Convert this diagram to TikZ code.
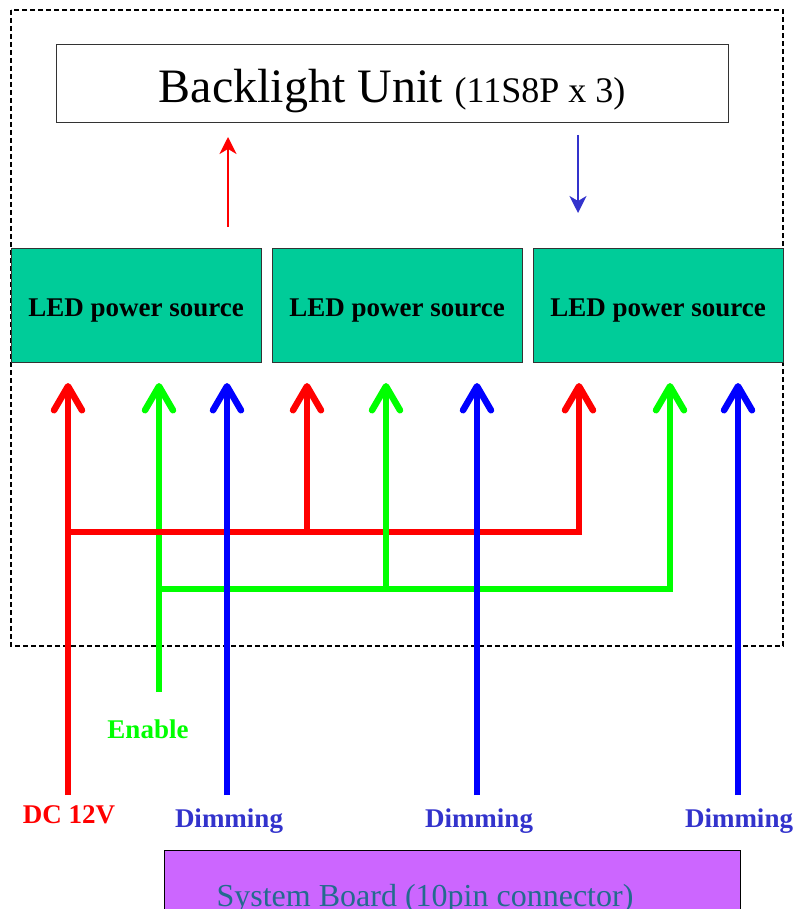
\documentclass[tikz,border=0pt]{standalone}
\usepackage{fontspec}
\setmainfont{Liberation Serif}
\usetikzlibrary{arrows.meta}

\definecolor{ledgreen}{HTML}{00CC99}
\definecolor{boardpurple}{HTML}{CC66FF}
\definecolor{dimblue}{HTML}{3333CC}
\definecolor{boardtext}{HTML}{236B8E}

\tikzset{
  wire/.style={line width=6.5pt,-{Straight Barb[length=24pt,width=28pt,round]}},
  bus/.style={line width=6.5pt},
  ledbox/.style={draw=black!80,fill=ledgreen,minimum width=250pt,minimum height=114pt,
    inner sep=0pt},
  ledtext/.style={font=\fontsize{27}{30}\selectfont\bfseries},
  siglabel/.style={font=\fontsize{27}{30}\selectfont\bfseries}
}

\begin{document}
\begin{tikzpicture}[x=1pt,y=-1pt]
	\useasboundingbox (0,0) rectangle (798,909);
	\draw[dash pattern=on 5pt off 3pt,line width=1.2pt] (11,10) rectangle (783,646);

	\node[draw=black!80,line width=1pt,minimum width=672pt,minimum height=78pt,inner sep=0pt]
		(blu) at (392,84) {};
	\node[anchor=base] (blutxt) at (392,103)
		{\fontsize{48}{50}\selectfont Backlight Unit \fontsize{36}{40}\selectfont(11S8P x 3)};

	\node[ledbox] (led1) at (136,305) {};
	\node[ledbox] (led2) at (397,305) {};
	\node[ledbox] (led3) at (658,305) {};
	\node[ledtext,anchor=base] (ledtxt1) at (136,316) {LED power source};
	\node[ledtext,anchor=base] (ledtxt2) at (397,316) {LED power source};
	\node[ledtext,anchor=base] (ledtxt3) at (658,316) {LED power source};

	\node[draw=black,line width=1pt,fill=boardpurple,minimum width=576pt,minimum height=90pt,
		inner sep=0pt,anchor=north] (board) at (452,850) {};
	\node[text=boardtext,font=\fontsize{32}{34}\selectfont,anchor=base] (boardtxt) at (425,906)
		{System Board (10pin connector)};

	% power to the backlight and back
	\coordinate (upfrom) at (228,227);
	\coordinate (upto) at (228,137);
	\coordinate (downfrom) at (578,135);
	\coordinate (downto) at (578,213);
	\draw[red,line width=2pt,-{Stealth[length=17pt,width=17pt,inset=5pt]}] (upfrom) -- (upto);
	\draw[dimblue,line width=2pt,-{Stealth[length=17pt,width=17pt,inset=5pt]}] (downfrom) -- (downto);

	% free ends of the wires
	\coordinate (dc) at (68,795);
	\coordinate (en) at (159,692);
	\coordinate (dim1) at (227,795);
	\coordinate (dim2) at (477,795);
	\coordinate (dim3) at (738,795);
	\coordinate (rbus) at (68,532);
	\coordinate (gbus) at (159,589);

	% enable, first
	\draw[wire,green] (en) -- (159,383);

	% 12V
	\draw[wire,red] (dc) -- (68,383);
	\draw[bus,red] (rbus) -- (582,532);
	\draw[wire,red] (307,532) -- (307,383);
	\draw[wire,red] (579,532) -- (579,383);

	% enable, rest
	\draw[bus,green] (gbus) -- (673,589);
	\draw[wire,green] (386,589) -- (386,383);
	\draw[wire,green] (670,589) -- (670,383);

	% dimming
	\draw[wire,blue] (dim1) -- (227,383);
	\draw[wire,blue] (dim2) -- (477,383);
	\draw[wire,blue] (dim3) -- (738,383);

	\node[siglabel,text=red] (dclabel) at (69,815) {DC 12V};
	\node[siglabel,text=green] (enlabel) at (148,729) {Enable};
	\node[siglabel,text=dimblue] (dimlabel1) at (229,821) {Dimming};
	\node[siglabel,text=dimblue] (dimlabel2) at (479,821) {Dimming};
	\node[siglabel,text=dimblue] (dimlabel3) at (739,821) {Dimming};
\end{tikzpicture}
\end{document}
